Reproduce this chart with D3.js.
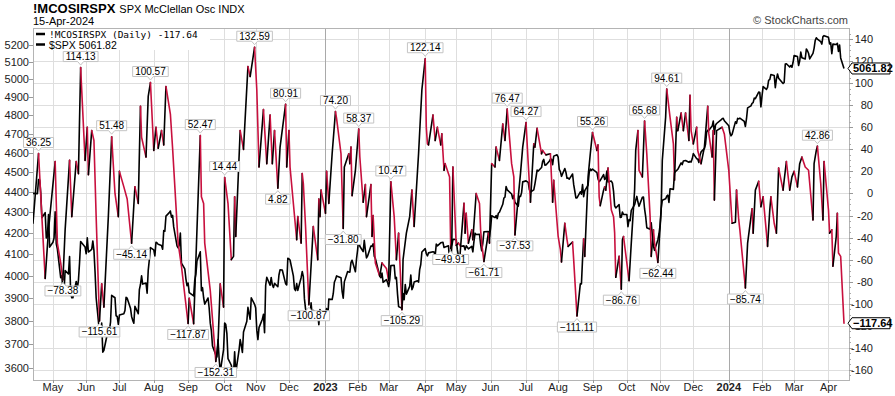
<!DOCTYPE html>
<html><head><meta charset="utf-8">
<script src="https://cdn.jsdelivr.net/npm/d3@7"></script>
<style>
html,body{margin:0;padding:0;background:#fff;}
svg{display:block;font-family:Arial,"Liberation Sans",sans-serif;}
</style></head><body>
<svg id="chart" width="895" height="396"></svg>
<script>
// ---------------- DATA ----------------
const oscDates = [
"2022-04-14","2022-04-19","2022-04-22","2022-04-25","2022-04-28","2022-05-04","2022-05-06","2022-05-09","2022-05-11","2022-05-13",
"2022-05-17","2022-05-19","2022-05-23","2022-05-25","2022-05-27","2022-05-31","2022-06-02","2022-06-03","2022-06-06","2022-06-08",
"2022-06-10","2022-06-13","2022-06-15","2022-06-17","2022-06-21","2022-06-24","2022-06-27","2022-06-30","2022-07-01","2022-07-05",
"2022-07-08","2022-07-12","2022-07-15","2022-07-18","2022-07-20","2022-07-21","2022-07-25","2022-07-27","2022-07-29","2022-08-01",
"2022-08-03","2022-08-05","2022-08-08","2022-08-10","2022-08-12","2022-08-16","2022-08-18","2022-08-23","2022-08-26","2022-09-01",
"2022-09-02","2022-09-06","2022-09-12","2022-09-13","2022-09-15","2022-09-16","2022-09-21","2022-09-26","2022-09-28","2022-09-30",
"2022-10-03","2022-10-04","2022-10-07","2022-10-10","2022-10-12","2022-10-13","2022-10-14","2022-10-18","2022-10-21","2022-10-25",
"2022-10-27","2022-10-31","2022-11-02","2022-11-04","2022-11-08","2022-11-11","2022-11-14","2022-11-16","2022-11-18","2022-11-21",
"2022-11-23","2022-11-28","2022-11-29","2022-12-01","2022-12-02","2022-12-08","2022-12-09","2022-12-12","2022-12-13","2022-12-14",
"2022-12-16","2022-12-19","2022-12-23","2022-12-27","2022-12-28","2022-12-29","2022-12-30",
"2023-01-03","2023-01-04","2023-01-06","2023-01-09","2023-01-12","2023-01-13","2023-01-17","2023-01-19","2023-01-20","2023-01-24",
"2023-01-25","2023-01-26","2023-01-27","2023-01-30","2023-02-02","2023-02-03","2023-02-06","2023-02-08","2023-02-09","2023-02-13",
"2023-02-14","2023-02-15","2023-02-17","2023-02-21","2023-02-23","2023-02-27","2023-03-01","2023-03-03","2023-03-06","2023-03-08",
"2023-03-10","2023-03-13","2023-03-14","2023-03-17","2023-03-20","2023-03-22","2023-03-24","2023-03-28","2023-03-31","2023-04-03",
"2023-04-04","2023-04-05","2023-04-06","2023-04-10","2023-04-12","2023-04-14","2023-04-17","2023-04-18","2023-04-20","2023-04-21",
"2023-04-25","2023-04-26","2023-04-27","2023-04-28","2023-05-01","2023-05-03","2023-05-05","2023-05-08","2023-05-09","2023-05-10",
"2023-05-12","2023-05-15","2023-05-16","2023-05-19","2023-05-22","2023-05-23","2023-05-24","2023-05-26","2023-05-30","2023-05-31",
"2023-06-02","2023-06-05","2023-06-06","2023-06-09","2023-06-12","2023-06-14","2023-06-16","2023-06-20","2023-06-22","2023-06-23",
"2023-06-26","2023-06-28","2023-06-30","2023-07-03","2023-07-05","2023-07-07","2023-07-10","2023-07-11","2023-07-13","2023-07-17",
"2023-07-18","2023-07-21","2023-07-25","2023-07-27","2023-07-28","2023-08-01","2023-08-03","2023-08-04","2023-08-07","2023-08-09",
"2023-08-10","2023-08-14","2023-08-15","2023-08-18","2023-08-21","2023-08-22","2023-08-23","2023-08-24","2023-08-25","2023-08-28",
"2023-08-30","2023-09-01","2023-09-05","2023-09-06","2023-09-07","2023-09-08","2023-09-11","2023-09-12","2023-09-13","2023-09-15",
"2023-09-18","2023-09-20","2023-09-21","2023-09-22","2023-09-25","2023-09-27","2023-09-28","2023-09-29","2023-10-02","2023-10-04",
"2023-10-06","2023-10-09","2023-10-10","2023-10-12","2023-10-13","2023-10-16","2023-10-18","2023-10-20","2023-10-23","2023-10-24",
"2023-10-26","2023-10-27","2023-10-30","2023-11-02","2023-11-03","2023-11-06","2023-11-07","2023-11-10","2023-11-13","2023-11-14",
"2023-11-16","2023-11-17","2023-11-20","2023-11-22","2023-11-24","2023-11-27","2023-11-28","2023-11-29","2023-12-01","2023-12-04",
"2023-12-05","2023-12-08","2023-12-11","2023-12-12","2023-12-14","2023-12-15","2023-12-18","2023-12-19","2023-12-20","2023-12-22",
"2023-12-27","2023-12-29",
"2024-01-02","2024-01-05","2024-01-08","2024-01-09","2024-01-11","2024-01-12","2024-01-17","2024-01-19","2024-01-23","2024-01-24",
"2024-01-26","2024-01-29","2024-01-31","2024-02-02","2024-02-05","2024-02-06","2024-02-08","2024-02-09","2024-02-12","2024-02-14",
"2024-02-16","2024-02-20","2024-02-21","2024-02-23","2024-02-26","2024-02-28","2024-03-01","2024-03-04","2024-03-06","2024-03-08",
"2024-03-11","2024-03-14","2024-03-18","2024-03-19","2024-03-21","2024-03-22","2024-03-25","2024-03-27","2024-03-28","2024-04-01",
"2024-04-02","2024-04-04","2024-04-05","2024-04-08","2024-04-09","2024-04-10","2024-04-12","2024-04-15"
];
const oscValues = [
-27,36.25,-21,-77,-33,29,-45,-63,-78.38,-33,
30,-21,29,18,114.13,30,60,17,57,48,
-21,-115.61,-82,-103,-21,51.48,0,-21,20,6,
-5,-45.14,6,-9,79,51,33,88,100.57,39,
60,41,57,44,97,72,41,-45,-66,-117.87,
-95,-118,52.47,-3,-9,-45,-88,-152.31,-136,-82,
-103,14.44,-9,-60,-57,-3,-39,57,40,115,
106,132.59,94,24,76,27,71,27,57,4.82,
42,80.91,24,57,24,-42,-21,-45,18,9,
-30,-100.87,-30,-60,-5,-21,3,
-18,20,-9,36,74.20,68,36,-31.80,24,36,
27,42,-2,21,58.37,33,-8,8,-21,8,
-39,-20,-63,-75,-63,-68,-79,10.47,-21,-60,
-36,-105.29,-60,-36,-21,3,-30,36,94,122.14,
60,45,44,71,48,60,44,54,21,27,
15,-49.91,-45,24,-47,-45,-48,-9,-36,-18,
-45,-33,-42,0,-9,-33,-45,-61.71,-36,-45,
27,24,42,30,63,48,76.47,27,15,-37.53,
-3,18,42,64.27,27,-8,45,42,59,36,
39,35,36,-8,12,-39,-51,-62,-27,-42,
-48,-44,-60,-111.11,-82,-82,-60,-41,-57,15,
36,55.26,39,44,-3,-11,3,6,3,23,
-15,-21,-36,-76,-57,-86.76,-42,-39,-63,-79,
-45,3,39,57,21,15,65.68,36,-21,-57,
-33,-45,-62.44,-15,30,69,94.61,69,45,12,
69,57,73,57,73,48,89,57,45,60,
39,27,42,54,79,54,33,57,-6,57,
60,54,
21,-27,-26,3,-24,-33,-85.74,-45,-14,-36,
3,11,-12,-3,-36,-48,-15,-3,-27,-36,
23,3,12,29,3,15,20,6,27,33,
24,21,-24,27,39,42.86,9,-24,29,-15,
-36,-33,-66,-39,-18,-54,-57,-117.64
];
const spxDates = [
"2022-04-14","2022-04-18","2022-04-19","2022-04-20","2022-04-21","2022-04-22","2022-04-25","2022-04-26","2022-04-27","2022-04-28","2022-04-29",
"2022-05-02","2022-05-03","2022-05-04","2022-05-05","2022-05-06","2022-05-09","2022-05-10","2022-05-11","2022-05-12","2022-05-13",
"2022-05-16","2022-05-17","2022-05-18","2022-05-19","2022-05-20","2022-05-23","2022-05-24","2022-05-25","2022-05-26","2022-05-27",
"2022-05-31","2022-06-01","2022-06-02","2022-06-03","2022-06-06","2022-06-07","2022-06-08","2022-06-09","2022-06-10","2022-06-13",
"2022-06-14","2022-06-15","2022-06-16","2022-06-17","2022-06-21","2022-06-22","2022-06-23","2022-06-24","2022-06-27","2022-06-28",
"2022-06-29","2022-06-30","2022-07-01","2022-07-05","2022-07-06","2022-07-07","2022-07-08","2022-07-11","2022-07-12","2022-07-13",
"2022-07-14","2022-07-15","2022-07-18","2022-07-19","2022-07-20","2022-07-21","2022-07-22","2022-07-25","2022-07-26","2022-07-27",
"2022-07-28","2022-07-29","2022-08-01","2022-08-02","2022-08-03","2022-08-04","2022-08-05","2022-08-08","2022-08-09","2022-08-10",
"2022-08-11","2022-08-12","2022-08-15","2022-08-16","2022-08-17","2022-08-18","2022-08-19","2022-08-22","2022-08-23","2022-08-24",
"2022-08-25","2022-08-26","2022-08-29","2022-08-30","2022-08-31","2022-09-01","2022-09-02","2022-09-06","2022-09-07","2022-09-08",
"2022-09-09","2022-09-12","2022-09-13","2022-09-14","2022-09-15","2022-09-16","2022-09-19","2022-09-20","2022-09-21","2022-09-22",
"2022-09-23","2022-09-26","2022-09-27","2022-09-28","2022-09-29","2022-09-30","2022-10-03","2022-10-04","2022-10-05","2022-10-06",
"2022-10-07","2022-10-10","2022-10-11","2022-10-12","2022-10-13","2022-10-14","2022-10-17","2022-10-18","2022-10-19","2022-10-20",
"2022-10-21","2022-10-24","2022-10-25","2022-10-26","2022-10-27","2022-10-28","2022-10-31","2022-11-01","2022-11-02","2022-11-03",
"2022-11-04","2022-11-07","2022-11-08","2022-11-09","2022-11-10","2022-11-11","2022-11-14","2022-11-15","2022-11-16","2022-11-17",
"2022-11-18","2022-11-21","2022-11-22","2022-11-23","2022-11-25","2022-11-28","2022-11-29","2022-11-30","2022-12-01","2022-12-02",
"2022-12-05","2022-12-06","2022-12-07","2022-12-08","2022-12-09","2022-12-12","2022-12-13","2022-12-14","2022-12-15","2022-12-16",
"2022-12-19","2022-12-20","2022-12-21","2022-12-22","2022-12-23","2022-12-27","2022-12-28","2022-12-29","2022-12-30",
"2023-01-03","2023-01-04","2023-01-05","2023-01-06","2023-01-09","2023-01-10","2023-01-11","2023-01-12","2023-01-13","2023-01-17",
"2023-01-18","2023-01-19","2023-01-20","2023-01-23","2023-01-24","2023-01-25","2023-01-26","2023-01-27","2023-01-30","2023-01-31",
"2023-02-01","2023-02-02","2023-02-03","2023-02-06","2023-02-07","2023-02-08","2023-02-09","2023-02-10","2023-02-13","2023-02-14",
"2023-02-15","2023-02-16","2023-02-17","2023-02-21","2023-02-22","2023-02-23","2023-02-24","2023-02-27","2023-02-28","2023-03-01",
"2023-03-02","2023-03-03","2023-03-06","2023-03-07","2023-03-08","2023-03-09","2023-03-10","2023-03-13","2023-03-14","2023-03-15",
"2023-03-16","2023-03-17","2023-03-20","2023-03-21","2023-03-22","2023-03-23","2023-03-24","2023-03-27","2023-03-28","2023-03-29",
"2023-03-30","2023-03-31","2023-04-03","2023-04-04","2023-04-05","2023-04-06","2023-04-10","2023-04-11","2023-04-12","2023-04-13",
"2023-04-14","2023-04-17","2023-04-18","2023-04-19","2023-04-20","2023-04-21","2023-04-24","2023-04-25","2023-04-26","2023-04-27",
"2023-04-28","2023-05-01","2023-05-02","2023-05-03","2023-05-04","2023-05-05","2023-05-08","2023-05-09","2023-05-10","2023-05-11",
"2023-05-12","2023-05-15","2023-05-16","2023-05-17","2023-05-18","2023-05-19","2023-05-22","2023-05-23","2023-05-24","2023-05-25",
"2023-05-26","2023-05-30","2023-05-31","2023-06-01","2023-06-02","2023-06-05","2023-06-06","2023-06-07","2023-06-08","2023-06-09",
"2023-06-12","2023-06-13","2023-06-14","2023-06-15","2023-06-16","2023-06-20","2023-06-21","2023-06-22","2023-06-23","2023-06-26",
"2023-06-27","2023-06-28","2023-06-29","2023-06-30","2023-07-03","2023-07-05","2023-07-06","2023-07-07","2023-07-10","2023-07-11",
"2023-07-12","2023-07-13","2023-07-14","2023-07-17","2023-07-18","2023-07-19","2023-07-20","2023-07-21","2023-07-24","2023-07-25",
"2023-07-26","2023-07-27","2023-07-28","2023-07-31","2023-08-01","2023-08-02","2023-08-03","2023-08-04","2023-08-07","2023-08-08",
"2023-08-09","2023-08-10","2023-08-11","2023-08-14","2023-08-15","2023-08-16","2023-08-17","2023-08-18","2023-08-21","2023-08-22",
"2023-08-23","2023-08-24","2023-08-25","2023-08-28","2023-08-29","2023-08-30","2023-08-31","2023-09-01","2023-09-05","2023-09-06",
"2023-09-07","2023-09-08","2023-09-11","2023-09-12","2023-09-13","2023-09-14","2023-09-15","2023-09-18","2023-09-19","2023-09-20",
"2023-09-21","2023-09-22","2023-09-25","2023-09-26","2023-09-27","2023-09-28","2023-09-29","2023-10-02","2023-10-03","2023-10-04",
"2023-10-05","2023-10-06","2023-10-09","2023-10-10","2023-10-11","2023-10-12","2023-10-13","2023-10-16","2023-10-17","2023-10-18",
"2023-10-19","2023-10-20","2023-10-23","2023-10-24","2023-10-25","2023-10-26","2023-10-27","2023-10-30","2023-10-31","2023-11-01",
"2023-11-02","2023-11-03","2023-11-06","2023-11-07","2023-11-08","2023-11-09","2023-11-10","2023-11-13","2023-11-14","2023-11-15",
"2023-11-16","2023-11-17","2023-11-20","2023-11-21","2023-11-22","2023-11-24","2023-11-27","2023-11-28","2023-11-29","2023-11-30",
"2023-12-01","2023-12-04","2023-12-05","2023-12-06","2023-12-07","2023-12-08","2023-12-11","2023-12-12","2023-12-13","2023-12-14",
"2023-12-15","2023-12-18","2023-12-19","2023-12-20","2023-12-21","2023-12-22","2023-12-26","2023-12-27","2023-12-28","2023-12-29",
"2024-01-02","2024-01-03","2024-01-04","2024-01-05","2024-01-08","2024-01-09","2024-01-10","2024-01-11","2024-01-12","2024-01-16",
"2024-01-17","2024-01-18","2024-01-19","2024-01-22","2024-01-23","2024-01-24","2024-01-25","2024-01-26","2024-01-29","2024-01-30",
"2024-01-31","2024-02-01","2024-02-02","2024-02-05","2024-02-06","2024-02-07","2024-02-08","2024-02-09","2024-02-12","2024-02-13",
"2024-02-14","2024-02-15","2024-02-16","2024-02-20","2024-02-21","2024-02-22","2024-02-23","2024-02-26","2024-02-27","2024-02-28",
"2024-02-29","2024-03-01","2024-03-04","2024-03-05","2024-03-06","2024-03-07","2024-03-08","2024-03-11","2024-03-12","2024-03-13",
"2024-03-14","2024-03-15","2024-03-18","2024-03-19","2024-03-20","2024-03-21","2024-03-22","2024-03-25","2024-03-26","2024-03-27",
"2024-03-28","2024-04-01","2024-04-02","2024-04-03","2024-04-04","2024-04-05","2024-04-08","2024-04-09","2024-04-10","2024-04-11",
"2024-04-12","2024-04-15"
];
const spxValues = [
4392,4391,4462,4460,4394,4272,4297,4175,4183,4288,4132,
4155,4175,4301,4147,4123,3991,4001,3936,3930,4024,
4008,4088,3923,3901,3901,3974,3941,3979,4058,4158,
4132,4101,4176,4109,4121,4161,4116,4018,3901,3750,
3735,3790,3667,3675,3765,3760,3796,3912,3901,3822,
3819,3785,3825,3831,3845,3903,3899,3855,3819,3802,
3790,3863,3831,3937,3960,3999,3962,3967,3921,4024,
4073,4130,4119,4091,4155,4152,4145,4140,4122,4210,
4207,4280,4297,4305,4275,4284,4228,4138,4128,4141,
4199,4058,4031,3986,3955,3967,3924,3909,3980,4006,
4067,4110,3932,3946,3901,3873,3900,3856,3790,3758,
3693,3655,3647,3720,3640,3586,3678,3791,3784,3745,
3640,3613,3589,3577,3669,3583,3677,3720,3695,3666,
3752,3798,3859,3831,3807,3901,3872,3856,3760,3720,
3771,3807,3828,3749,3956,3993,3957,3992,3959,3947,
3965,3950,4003,4027,4026,3964,3958,4080,4077,4072,
3999,3941,3933,3964,3934,3991,4019,3996,3896,3852,
3818,3821,3879,3822,3845,3829,3783,3849,3840,
3824,3853,3808,3895,3893,3919,3970,3983,3999,3991,
3929,3899,3972,4019,4017,4016,4060,4071,4018,4077,
4119,4179,4136,4111,4164,4118,4082,4090,4137,4136,
4148,4090,4079,3997,3991,4012,3970,3982,3970,3951,
3981,4046,4048,3986,3992,3918,3862,3855,3920,3892,
3960,3917,3952,4003,3937,3948,3971,3977,3971,4028,
4051,4109,4125,4101,4091,4105,4110,4109,4092,4146,
4138,4152,4154,4155,4130,4133,4138,4071,4056,4136,
4169,4168,4120,4091,4061,4136,4138,4119,4138,4131,
4124,4136,4110,4159,4198,4192,4193,4146,4115,4151,
4205,4206,4180,4221,4282,4273,4283,4268,4294,4299,
4338,4369,4373,4426,4410,4389,4366,4382,4348,4329,
4378,4377,4396,4450,4455,4447,4411,4399,4410,4439,
4473,4510,4505,4523,4555,4565,4535,4536,4555,4567,
4566,4538,4582,4589,4577,4513,4502,4478,4518,4499,
4468,4469,4464,4490,4437,4404,4370,4370,4400,4388,
4436,4376,4406,4433,4497,4515,4508,4515,4497,4465,
4451,4457,4487,4462,4467,4505,4450,4454,4444,4402,
4330,4320,4337,4274,4275,4300,4288,4288,4229,4263,
4258,4308,4336,4358,4377,4349,4328,4373,4374,4315,
4278,4224,4217,4248,4186,4137,4117,4167,4194,4237,
4318,4358,4365,4378,4383,4347,4415,4412,4496,4503,
4508,4514,4547,4538,4557,4559,4550,4555,4551,4568,
4595,4569,4567,4549,4585,4604,4622,4644,4707,4719,
4719,4741,4768,4698,4746,4755,4775,4781,4783,4770,
4743,4705,4689,4697,4764,4756,4783,4780,4784,4766,
4739,4781,4840,4851,4865,4869,4894,4891,4928,4925,
4846,4906,4959,4943,4954,4995,4998,5027,5022,4953,
5001,5030,5006,4976,4982,5087,5089,5070,5079,5069,
5096,5137,5131,5079,5105,5157,5124,5117,5175,5165,
5150,5117,5149,5179,5225,5241,5234,5218,5204,5248,
5254,5244,5205,5211,5147,5204,5202,5209,5161,5199,
5123,5061.82
];
const peakLabels = [36.25,114.13,51.48,100.57,52.47,14.44,132.59,80.91,74.20,58.37,10.47,122.14,76.47,64.27,55.26,65.68,94.61,42.86];
const troughLabels = [-78.38,-115.61,-45.14,-117.87,-152.31,4.82,-100.87,-31.80,-105.29,-49.91,-61.71,-37.53,-111.11,-86.76,-62.44,-85.74];
const oscTicks = d3.range(-160, 141, 20);
const spxTicks = d3.range(3600, 5201, 100);
const holidays = ["2023-01-02","2024-01-01"];
const titleText = "!MCOSIRSPX", subtitleText = "SPX McClellan Osc INDX", dateText = "15-Apr-2024";
const legendOsc = "!MCOSIRSPX (Daily) -117.64", legendSpx = "$SPX 5061.82";

// ---------------- LAYOUT ----------------
const L = 33, R = 849, T = 28, B = 380;
const RED = "#c8103e";
const parse = d3.timeParse("%Y-%m-%d");
const fmt = d3.timeFormat("%Y-%m-%d");
const svg = d3.select("#chart");

const x = d3.scaleTime().domain([parse("2022-04-14"), parse("2024-04-15")]).range([L, 844]);
const yOsc = d3.scaleLinear().domain([-169.1, 150]).range([B, T]);
const ySpx = d3.scaleLog().domain([3553, 5300]).range([B, T]);

// month ticks at first trading day
const monthStarts = d3.timeMonth.range(parse("2022-05-01"), parse("2024-05-01")).map(d => {
  let t = new Date(d);
  while (t.getDay() === 0 || t.getDay() === 6 || (t.getMonth() === 0 && t.getDate() === 1) || holidays.includes(fmt(t))) t = d3.timeDay.offset(t, 1);
  return t;
});

// gridlines
const grid = svg.append("g");
grid.selectAll(".hg").data(oscTicks).join("line")
  .attr("x1", L).attr("x2", R).attr("y1", d => Math.round(yOsc(d)) + 0.5).attr("y2", d => Math.round(yOsc(d)) + 0.5)
  .attr("stroke", "#dedede").attr("stroke-width", 1);
grid.selectAll(".vg").data(monthStarts).join("line")
  .attr("x1", d => Math.round(x(d)) + 0.5).attr("x2", d => Math.round(x(d)) + 0.5).attr("y1", T).attr("y2", B)
  .attr("stroke", d => d.getMonth() === 0 ? "#a9a9a9" : "#dedede").attr("stroke-width", 1);

// frame
svg.append("rect").attr("x", L + 0.5).attr("y", T + 0.5).attr("width", R - L).attr("height", B - T)
  .attr("fill", "none").attr("stroke", "#b4b4b4");

// clip
svg.append("clipPath").attr("id", "plotclip").append("rect").attr("x", L).attr("y", T).attr("width", R - L).attr("height", B - T);
const plot = svg.append("g").attr("clip-path", "url(#plotclip)");

// SPX line
const spxPts = spxDates.map((d, i) => ({ date: parse(d), v: spxValues[i] }));
plot.append("path").datum(spxPts)
  .attr("d", d3.line().x(d => x(d.date)).y(d => ySpx(d.v)))
  .attr("fill", "none").attr("stroke", "#000").attr("stroke-width", 1.6).attr("stroke-linejoin", "round");

// oscillator line (black when rising, red when falling)
const oscPts = oscDates.map((d, i) => ({ date: parse(d), v: oscValues[i] }));
const runs = [];
for (let i = 1; i < oscPts.length; i++) {
  const up = oscPts[i].v >= oscPts[i - 1].v;
  const last = runs[runs.length - 1];
  if (last && last.up === up) last.pts.push(oscPts[i]);
  else runs.push({ up, pts: [oscPts[i - 1], oscPts[i]] });
}
const oscLine = d3.line().x(d => x(d.date)).y(d => yOsc(d.v));
plot.selectAll(".osc").data(runs).join("path")
  .attr("d", d => oscLine(d.pts))
  .attr("fill", "none").attr("stroke", d => d.up ? "#000" : RED)
  .attr("stroke-width", 1.6).attr("stroke-linejoin", "round").attr("stroke-linecap", "round");

// legend (drawn before callouts)
const lg = svg.append("g");
lg.append("rect").attr("x", L + 1).attr("y", T + 1).attr("width", 176).attr("height", 21).attr("fill", "#fff");
lg.append("line").attr("x1", 36).attr("x2", 45).attr("y1", 34).attr("y2", 34).attr("stroke", "#000").attr("stroke-width", 2.5);
lg.append("line").attr("x1", 36).attr("x2", 45).attr("y1", 44.5).attr("y2", 44.5).attr("stroke", "#000").attr("stroke-width", 2.5);
lg.append("text").attr("x", 49).attr("y", 37.5).attr("font-family", "'DejaVu Sans Mono','Liberation Mono',monospace").attr("font-size", 9.5).text(legendOsc);
lg.append("text").attr("x", 49).attr("y", 48.7).attr("font-size", 10.5).text(legendSpx);

// callouts
const fmt2 = d3.format(".2f");
const calloutG = svg.append("g").attr("font-size", 10).attr("fill", "#000");
function callout(v, isPeak) {
  const i = oscValues.indexOf(v);
  if (i < 0) return;
  const px = x(parse(oscDates[i])), py = yOsc(v);
  const g = calloutG.append("g");
  const path = g.append("path");
  const t = g.append("text").attr("text-anchor", "middle").text(fmt2(v));
  const tw = t.node().getComputedTextLength();
  const w = tw + 5, h = 10;
  const l = px - w / 2, r = px + w / 2;
  let d, top;
  if (isPeak) {
    const bb = py - 6; top = bb - h;
    d = `M${l},${top}H${r}V${bb}H${px + 3}L${px},${bb + 3.5}L${px - 3},${bb}H${l}Z`;
  } else {
    top = py + 6;
    d = `M${l},${top}H${px - 3}L${px},${top - 3.5}L${px + 3},${top}H${r}V${top + h}H${l}Z`;
  }
  t.attr("x", px).attr("y", top + 8.5);
  path.attr("d", d).attr("fill", "#fff").attr("stroke", "#c4c4c4").attr("stroke-width", 1);
}
peakLabels.forEach(v => callout(v, true));
troughLabels.forEach(v => callout(v, false));

// left axis (SPX, log)
const la = svg.append("g").attr("font-size", 11).attr("fill", "#222");
la.selectAll("line").data(spxTicks).join("line")
  .attr("x1", L - 4).attr("x2", L).attr("y1", d => Math.round(ySpx(d)) + 0.5).attr("y2", d => Math.round(ySpx(d)) + 0.5)
  .attr("stroke", "#999");
la.selectAll("text").data(spxTicks).join("text")
  .attr("x", L - 4).attr("y", d => ySpx(d) + 4).attr("text-anchor", "end").text(d => d);

// right axis (oscillator)
const ra = svg.append("g").attr("font-size", 11).attr("fill", "#222");
const minor = d3.range(-165, 149, 5).filter(v => v % 20 !== 0);
ra.selectAll(".mn").data(minor).join("line")
  .attr("x1", R).attr("x2", R + 2).attr("y1", d => Math.round(yOsc(d)) + 0.5).attr("y2", d => Math.round(yOsc(d)) + 0.5)
  .attr("stroke", "#aaa");
ra.selectAll(".mj").data(oscTicks).join("line")
  .attr("x1", R).attr("x2", R + 4).attr("y1", d => Math.round(yOsc(d)) + 0.5).attr("y2", d => Math.round(yOsc(d)) + 0.5)
  .attr("stroke", "#999");
ra.selectAll("text").data(oscTicks).join("text")
  .attr("x", 873).attr("y", d => yOsc(d) + 4).attr("text-anchor", "end").text(d => d);

// bottom axis labels
const ba = svg.append("g").attr("font-size", 11).attr("fill", "#222");
ba.selectAll("text").data(monthStarts).join("text")
  .attr("x", d => x(d)).attr("y", 391).attr("text-anchor", "middle")
  .attr("font-weight", d => d.getMonth() === 0 ? "bold" : "normal")
  .text(d => d.getMonth() === 0 ? d3.timeFormat("%Y")(d) : d3.timeFormat("%b")(d));
ba.selectAll("line").data(monthStarts).join("line")
  .attr("x1", d => Math.round(x(d)) + 0.5).attr("x2", d => Math.round(x(d)) + 0.5).attr("y1", B).attr("y2", B + 3)
  .attr("stroke", "#999");

// right value tags (cover the axis labels behind them, as in the original)
function tag(yv, label) {
  const g = svg.append("g");
  g.append("path").attr("d", `M${R - 1},${yv}L${R + 3},${yv - 5.5}H${890}V${yv + 5.5}H${R + 3}Z`)
    .attr("fill", "#fff").attr("stroke", "#000").attr("stroke-width", 1);
  g.append("text").attr("x", R + 4).attr("y", yv + 4).attr("font-size", 11).attr("font-weight", "bold").text(label);
}
tag(ySpx(spxValues[spxValues.length - 1]), fmt2(spxValues[spxValues.length - 1]));
tag(yOsc(oscValues[oscValues.length - 1]), fmt2(oscValues[oscValues.length - 1]));

// header
const title = svg.append("text").attr("x", 33).attr("y", 13).attr("font-size", 13).attr("font-weight", "bold").text(titleText);
const tEnd = 33 + title.node().getComputedTextLength();
svg.append("text").attr("x", tEnd + 4).attr("y", 13).attr("font-size", 11).text(subtitleText);
svg.append("text").attr("x", 33).attr("y", 25).attr("font-size", 11).text(dateText);
svg.append("text").attr("x", 848).attr("y", 24).attr("font-size", 11).attr("fill", "#444").attr("text-anchor", "end").text("\u00A9 StockCharts.com");
</script>
</body></html>
